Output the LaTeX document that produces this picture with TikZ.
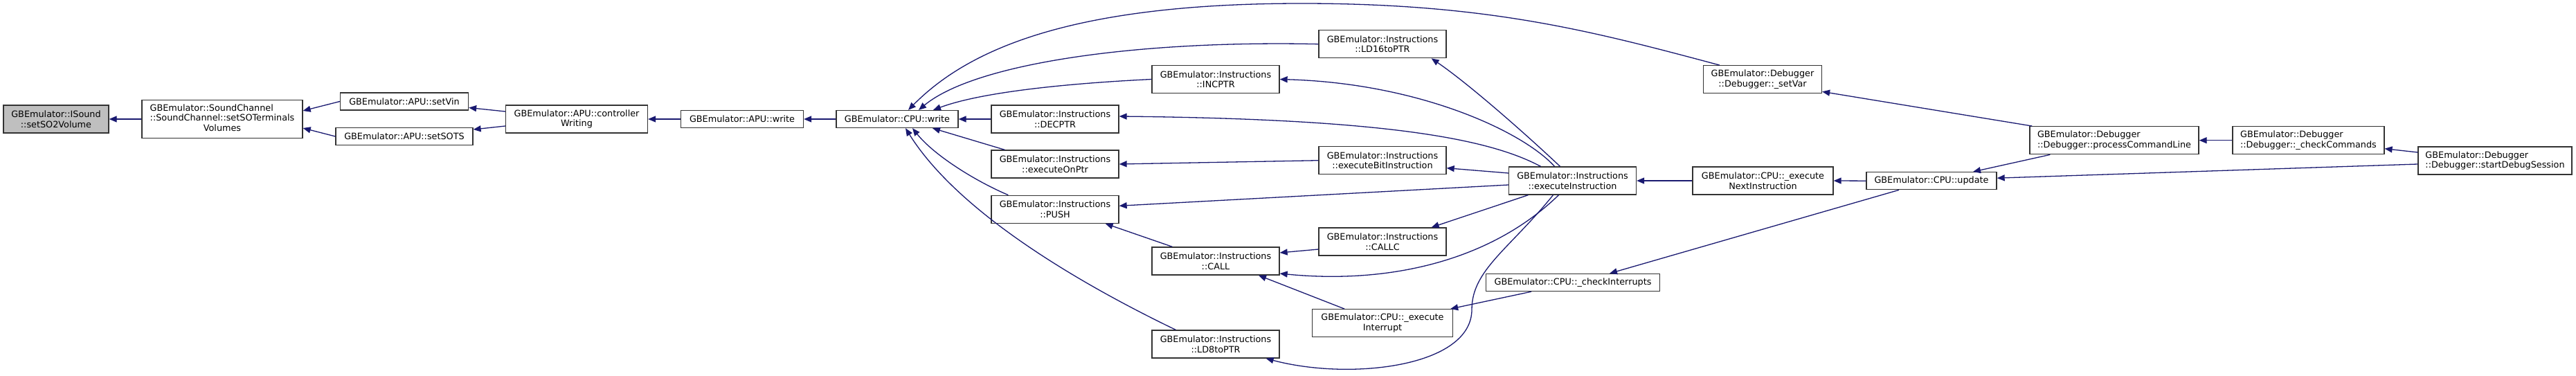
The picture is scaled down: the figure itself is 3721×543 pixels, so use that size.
\documentclass[tikz,border=0pt]{standalone}
\usepackage{fontspec}
\setmainfont{DejaVu Sans}
\usetikzlibrary{arrows.meta}
\definecolor{edgeblue}{RGB}{25,25,112}

\begin{document}
\begin{tikzpicture}[x=1pt,y=-1pt,
  fn/.style={draw=black!80,line width=1.3pt,fill=white,inner sep=0pt,align=center,
    font=\fontsize{12.8}{14.5}\selectfont,minimum height=25pt},
  fn2/.style={fn,minimum height=40pt},
  call/.style={draw=edgeblue,line width=1.3pt,-{Triangle[length=11pt,width=9pt]}}]
% Caller graph of ISound::setSO2Volume
\useasboundingbox (0,0) rectangle (3721,543);
\node[fn2,fill=black!25,minimum width=152pt] (isound) at (81,172) {GBEmulator::ISound\\::setSO2Volume};
\node[fn,minimum width=232pt,minimum height=55pt] (soundch) at (321,172)
  {\begin{tabular}{@{}l@{}}GBEmulator::SoundChannel\\::SoundChannel::setSOTerminals\\\multicolumn{1}{@{}c@{}}{Volumes}\end{tabular}};
\node[fn,minimum width=185pt] (setvin) at (584,146.5) {GBEmulator::APU::setVin};
\node[fn,minimum width=198pt] (setsots) at (584,197) {GBEmulator::APU::setSOTS};
\node[fn2,minimum width=205pt] (ctrlwr) at (833,172) {GBEmulator::APU::controller\\Writing};
\node[fn,minimum width=177pt] (apuwrite) at (1072,172) {GBEmulator::APU::write};
\node[fn,minimum width=176pt] (cpuwrite) at (1296,172) {GBEmulator::CPU::write};
\node[fn2,minimum width=184pt] (incptr) at (1756,114.5) {GBEmulator::Instructions\\::INCPTR};
\node[fn2,minimum width=184pt] (decptr) at (1524,172) {GBEmulator::Instructions\\::DECPTR};
\node[fn2,minimum width=184pt] (execonptr) at (1524,237) {GBEmulator::Instructions\\::executeOnPtr};
\node[fn2,minimum width=184pt] (push) at (1524,302.3) {GBEmulator::Instructions\\::PUSH};
\node[fn2,minimum width=184pt] (call) at (1756,377) {GBEmulator::Instructions\\::CALL};
\node[fn2,minimum width=184pt] (ld8) at (1756,497) {GBEmulator::Instructions\\::LD8toPTR};
\node[fn2,minimum width=184pt] (ld16) at (1997,63.7) {GBEmulator::Instructions\\::LD16toPTR};
\node[fn2,minimum width=171pt] (setvar) at (2546,114.7) {GBEmulator::Debugger\\::Debugger::\_setVar};
\node[fn2,minimum width=184pt] (execbit) at (1997,231.7) {GBEmulator::Instructions\\::executeBitInstruction};
\node[fn2,minimum width=184pt] (execinstr) at (2271.5,261) {GBEmulator::Instructions\\::executeInstruction};
\node[fn2,minimum width=203pt] (execnext) at (2546.5,261) {GBEmulator::CPU::\_execute\\NextInstruction};
\node[fn2,minimum width=184pt] (callc) at (1997,349) {GBEmulator::Instructions\\::CALLC};
\node[fn,minimum width=251pt] (checkint) at (2272,408) {GBEmulator::CPU::\_checkInterrupts};
\node[fn2,minimum width=203pt] (execint) at (1997,466.7) {GBEmulator::CPU::\_execute\\Interrupt};
\node[fn2,minimum width=244pt,align=left] (proccmd) at (3054,202.7) {GBEmulator::Debugger\\::Debugger::processCommandLine};
\node[fn2,minimum width=219pt,align=left] (checkcmd) at (3334.4,202.7) {GBEmulator::Debugger\\::Debugger::\_checkCommands};
\node[fn2,minimum width=222pt,align=left] (startdbg) at (3604,232) {GBEmulator::Debugger\\::Debugger::startDebugSession};
\node[fn,minimum width=188pt] (update) at (2790,261.2) {GBEmulator::CPU::update};
% calls, arrow at the callee
\draw[call] (soundch.west) -- (isound.east);
\draw[call] (setvin.west) -- ([yshift=12pt]soundch.east);
\draw[call] (setsots.west) -- ([yshift=-13pt]soundch.east);
\draw[call] ([yshift=11pt]ctrlwr.west) -- ([yshift=-9pt]setvin.east);
\draw[call] ([yshift=-10pt]ctrlwr.west) -- ([yshift=10pt]setsots.east);
\draw[call] (apuwrite.west) -- (ctrlwr.east);
\draw[call] (cpuwrite.west) -- (apuwrite.east);
\draw[call] ([xshift=24pt]setvar.north west) .. controls (2300,45) and (2150,5) .. (1880,5)
  .. controls (1550,5) and (1400,70) .. ([xshift=16pt]cpuwrite.north);
\draw[call] (ld16.west) .. controls (1650,58) and (1410,90) .. ([xshift=31pt]cpuwrite.north);
\draw[call] (incptr.west) .. controls (1550,120) and (1420,132) .. ([xshift=52pt]cpuwrite.north);
\draw[call] (decptr.west) -- (cpuwrite.east);
\draw[call] ([xshift=20pt]execonptr.north west) -- ([xshift=51pt]cpuwrite.south);
\draw[call] ([xshift=25pt]push.north west) .. controls (1410,262) and (1350,225) .. ([xshift=22pt]cpuwrite.south);
\draw[call] ([xshift=35pt]ld8.north west) .. controls (1540,400) and (1380,300) .. ([xshift=12pt]cpuwrite.south);
\draw[call] ([xshift=30pt]call.north west) -- ([xshift=-20pt]push.south east);
\draw[call] ([yshift=-6pt]execinstr.west) -- ([yshift=5pt]push.east);
\draw[call] ([yshift=-11pt]callc.west) -- ([yshift=12pt]call.east);
\draw[call] ([xshift=-20pt]execinstr.south) .. controls (2150,380) and (2000,410) .. ([yshift=-18pt]call.east);
\draw[call] ([xshift=-55pt]execint.north) -- ([xshift=62pt]call.south);
\draw[call] ([xshift=-28pt]execinstr.south) .. controls (2180,360) and (2126,390) .. (2126,447)
  .. controls (2126,530) and (1950,550) .. ([xshift=-20pt]ld8.south east);
\draw[call] ([xshift=-18pt]execinstr.north) .. controls (2200,190) and (2120,120) .. ([xshift=-22pt]ld16.south east);
\draw[call] ([xshift=-26pt]execinstr.north) .. controls (2200,190) and (2050,120) .. (incptr.east);
\draw[call] ([xshift=-46pt]execinstr.north) .. controls (2150,200) and (2000,172) .. ([yshift=4pt]decptr.east);
\draw[call] ([yshift=11pt]execinstr.west) -- ([yshift=-11pt]execbit.east);
\draw[call] (execbit.west) -- (execonptr.east);
\draw[call] ([xshift=-64pt]execinstr.south) -- ([xshift=-22pt]callc.north east);
\draw[call] ([xshift=-60pt]checkint.south) -- ([xshift=-4pt]execint.north east);
\draw[call] (execnext.west) -- (execinstr.east);
\draw[call] (update.west) -- (execnext.east);
\draw[call] ([xshift=-47pt]update.south) -- ([xshift=53pt]checkint.north);
\draw[call] ([xshift=30pt]proccmd.south west) -- ([xshift=60pt]update.north);
\draw[call] ([xshift=4pt]proccmd.north west) -- ([yshift=3pt]setvar.south east);
\draw[call] (checkcmd.west) -- (proccmd.east);
\draw[call] ([yshift=12pt]startdbg.west) -- ([yshift=-12pt]checkcmd.east);
\draw[call] ([yshift=-5pt]startdbg.west) -- ([yshift=4pt]update.east);
\end{tikzpicture}
\end{document}
